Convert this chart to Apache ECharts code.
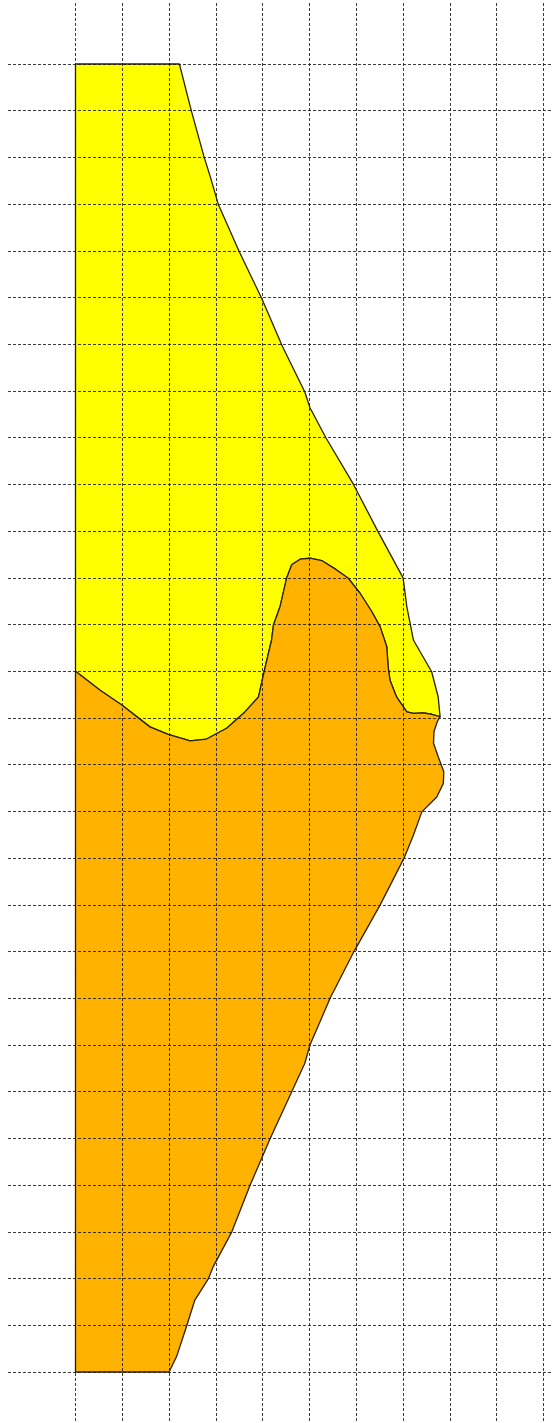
<!DOCTYPE html>
<html>
<head>
<meta charset="utf-8">
<title>chart</title>
<script src="https://cdn.jsdelivr.net/npm/echarts@6/dist/echarts.min.js"></script>
<style>
    html, body { margin: 0; padding: 0; background: #fff; }
    #main { width: 552px; height: 1423px; }
</style>
</head>
<body>
<div id="main"></div>
<script>
//grid units: x = columns from the left edge, y = rows from the top line

//yellow outer edge, top-left corner round to where the two areas meet
var edge_x = [0, 2.22, 2.48, 2.75, 2.87, 3.05, 3.5, 3.98, 4.41, 4.9, 5.01, 5.35, 5.94, 6.47, 7.0, 7.08, 7.22, 7.61, 7.75, 7.79];
var edge_y = [0, 0, 1.02, 2.0, 2.38, 3.0, 4.02, 5.02, 6.02, 7.02, 7.36, 8.0, 9.0, 10.02, 11.0, 11.62, 12.33, 13.01, 13.55, 13.97];

//boundary between yellow and orange, left to right
var mid_x = [0, 0.52, 0.99, 1.59, 1.98, 2.45, 2.8, 3.23, 3.62, 3.91, 4.03, 4.19, 4.23, 4.37, 4.51, 4.62, 4.8, 5.01, 5.26, 5.58, 5.83, 6.08, 6.33, 6.51, 6.65, 6.68, 6.72, 6.86, 7.08, 7.22, 7.43, 7.61, 7.79];
var mid_y = [13, 13.4, 13.72, 14.19, 14.35, 14.49, 14.45, 14.22, 13.87, 13.55, 13.01, 12.33, 12.01, 11.62, 11.01, 10.72, 10.6, 10.58, 10.63, 10.83, 11.01, 11.33, 11.72, 12.05, 12.47, 12.9, 13.19, 13.55, 13.87, 13.9, 13.89, 13.92, 13.97];

//orange right edge, from the meeting point down to the bottom corner
var low_x = [7.79, 7.73, 7.66, 7.65, 7.75, 7.87, 7.86, 7.72, 7.4, 7.22, 7.02, 6.51, 5.95, 5.44, 5.01, 4.9, 4.62, 4.16, 3.73, 3.34, 2.94, 2.84, 2.55, 2.38, 2.16, 2.0, 0];
var low_y = [13.97, 14.08, 14.29, 14.54, 14.83, 15.15, 15.4, 15.69, 16.01, 16.51, 17.0, 18.0, 19.0, 20.0, 21.0, 21.39, 22.0, 23.0, 24.0, 25.0, 25.75, 26.0, 26.46, 27.0, 27.67, 28.0, 28.0];

var col_max = 10;
var row_max = 28;

//yellow = outer edge + boundary walked back
var yellow_x = edge_x.concat(mid_x.slice().reverse());
var yellow_y = edge_y.concat(mid_y.slice().reverse());
//orange = boundary + lower edge
var orange_x = mid_x.concat(low_x);
var orange_y = mid_y.concat(low_y);

//polygon through the grid scale
function polygon_item(xs, ys, color) {
    return function (params, api) {
        if (params.dataIndex !== 0) {
            return null;
        }
        var pts = [];
        for (var i = 0; i < xs.length; i++) {
            pts.push(api.coord([xs[i], ys[i]]));
        }
        return {
            type: 'polygon',
            shape: { points: pts },
            style: { fill: color, stroke: '#2b2200', lineWidth: 1.3, lineJoin: 'round' }
        };
    };
}

var dash = { color: 'rgba(25,25,25,0.85)', width: 1, type: [3, 2] };
var hidden = { axisLine: { show: false }, axisTick: { show: false }, axisLabel: { show: false } };

var chart = echarts.init(document.getElementById('main'));
var option = {
    animation: false,
    backgroundColor: '#ffffff',
    grid: [
        { left: 75.5, right: 8.5, top: 64, bottom: 51 },   //shapes
        { left: 75.5, right: 8.5, top: 3, bottom: 0 },     //vertical lines
        { left: 8, right: 0, top: 64, bottom: 51 }         //horizontal lines
    ],
    xAxis: [
        Object.assign({ gridIndex: 0, type: 'value', min: 0, max: col_max, show: false }),
        Object.assign({ gridIndex: 1, type: 'value', min: 0, max: col_max, interval: 1, z: 10,
            splitLine: { show: true, showMinLine: true, showMaxLine: true, lineStyle: dash } }, hidden),
        Object.assign({ gridIndex: 2, type: 'value', min: 0, max: 1, z: 10,
            splitLine: { show: false } }, hidden)
    ],
    yAxis: [
        Object.assign({ gridIndex: 0, type: 'value', min: 0, max: row_max, inverse: true, show: false }),
        Object.assign({ gridIndex: 1, type: 'value', min: 0, max: 1, z: 10,
            splitLine: { show: false } }, hidden),
        Object.assign({ gridIndex: 2, type: 'value', min: 0, max: row_max, interval: 1, inverse: true, z: 10,
            splitLine: { show: true, showMinLine: true, showMaxLine: true, lineStyle: dash } }, hidden)
    ],
    series: [
        {
            type: 'custom',
            xAxisIndex: 0,
            yAxisIndex: 0,
            z: 1,
            clip: false,
            renderItem: polygon_item(yellow_x, yellow_y, '#ffff00'),
            data: [[0, 0]]
        },
        {
            type: 'custom',
            xAxisIndex: 0,
            yAxisIndex: 0,
            z: 1,
            clip: false,
            renderItem: polygon_item(orange_x, orange_y, '#ffb300'),
            data: [[0, 0]]
        }
    ]
};
chart.setOption(option, true);
</script>
</body>
</html>
